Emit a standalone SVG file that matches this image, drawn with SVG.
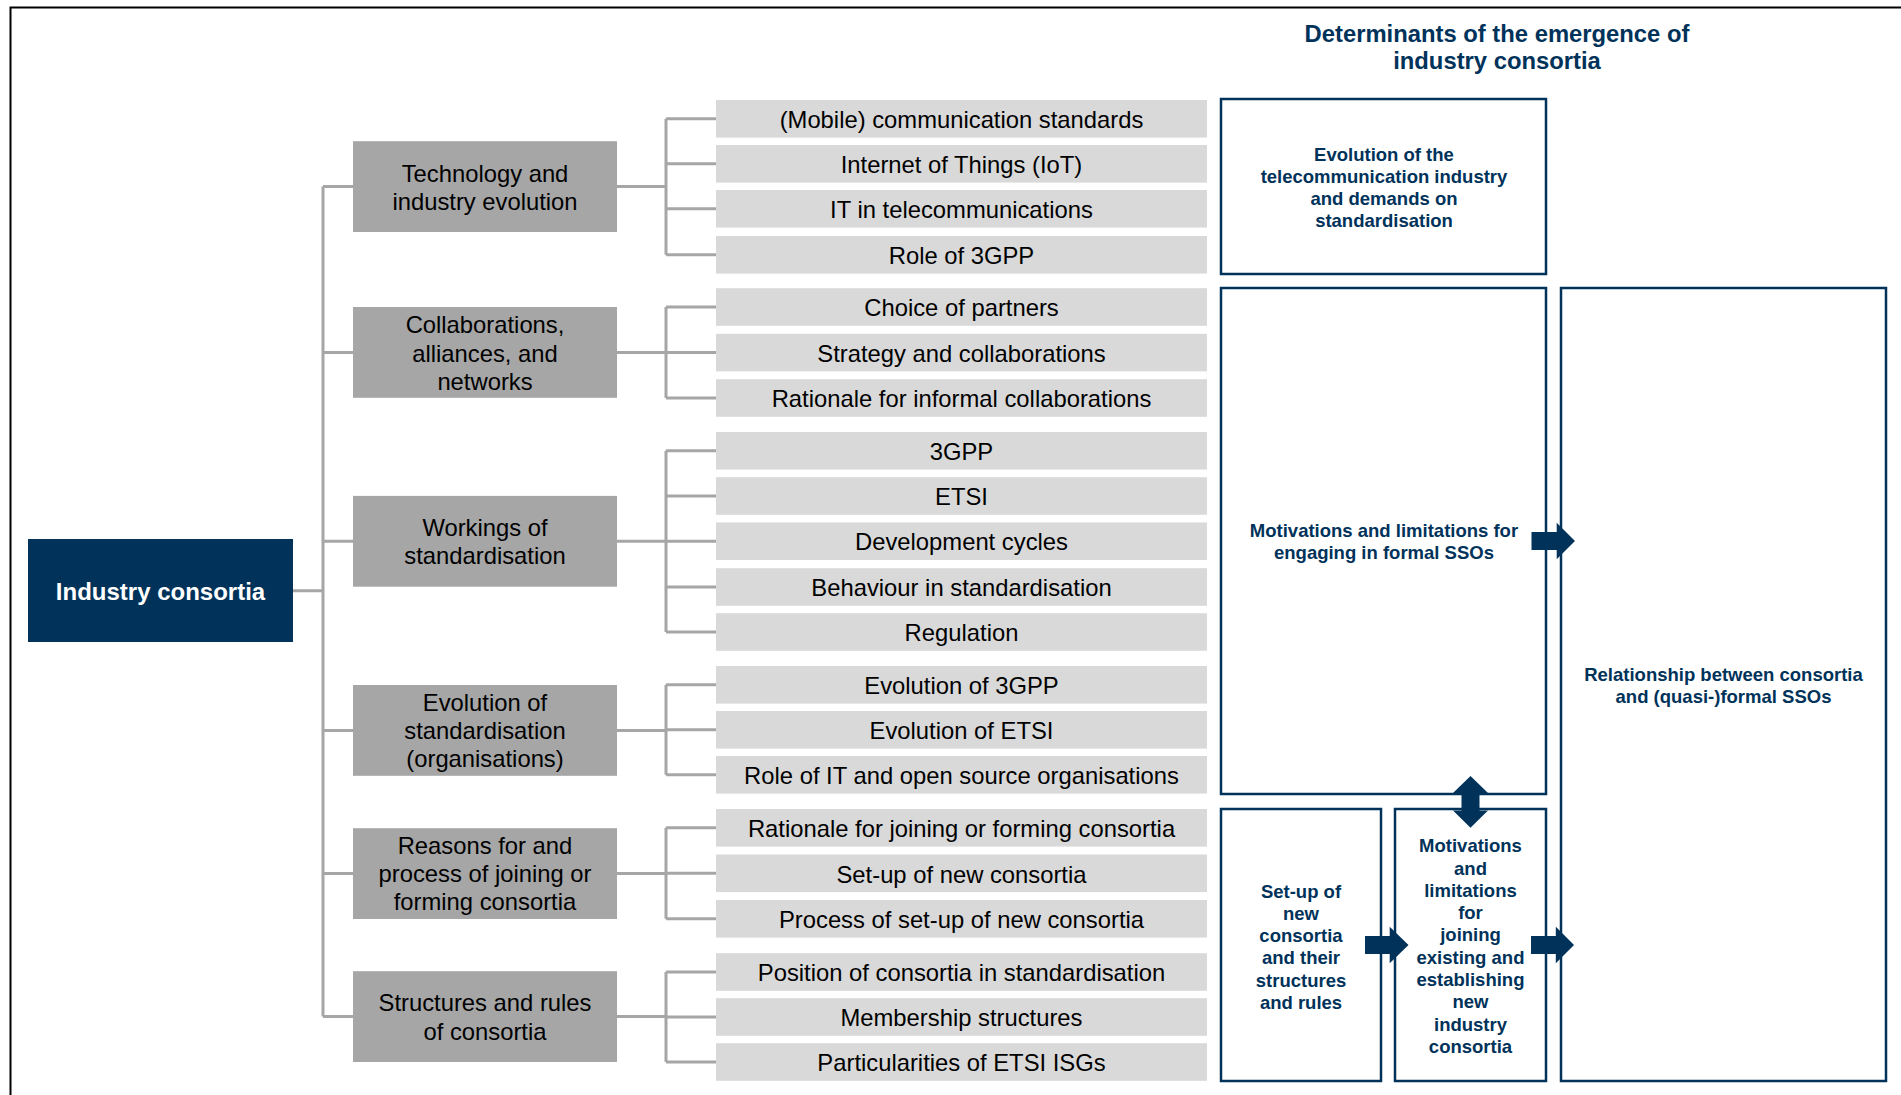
<svg xmlns="http://www.w3.org/2000/svg" width="1901" height="1095" viewBox="0 0 1901 1095">
  <style>
    .frame { fill: none; stroke: #000000; stroke-width: 2; }
    .wire { fill: none; stroke: #A6A6A6; stroke-width: 3; }
    .root { fill: #00325A; }
    .root-t { font-family: "Liberation Sans", Arial, sans-serif; font-size: 24px; font-weight: bold; fill: #FFFFFF; text-anchor: middle; }
    .cat { fill: #A6A6A6; }
    .item { fill: #D9D9D9; }
    .lbl { font-family: "Liberation Sans", Arial, sans-serif; font-size: 23.8px; fill: #000000; text-anchor: middle; }
    .det { fill: #FFFFFF; stroke: #00325A; stroke-width: 2.5; }
    .det-t { font-family: "Liberation Sans", Arial, sans-serif; font-size: 18.5px; font-weight: bold; fill: #00325A; text-anchor: middle; }
    .title { font-family: "Liberation Sans", Arial, sans-serif; font-size: 23.8px; font-weight: bold; fill: #00325A; text-anchor: middle; }
    .arrow { fill: #00325A; }
  </style>

  <!-- outer frame: left and top edges only -->
  <path class="frame" d="M10.5 1095 V7.5 H1901"/>

  <!-- tree connectors -->
  <g id="connectors">
    <!-- trunk -->
    <path class="wire" d="M293 590.7 H323 M323 186.6 V1016.6"/>
    <path class="wire" d="M323 186.6 H353 M323 352.4 H353 M323 541.3 H353 M323 730.4 H353 M323 873.4 H353 M323 1016.6 H353"/>
    <!-- group 1 -->
    <path class="wire" d="M617 186.6 H666 M666 118.8 V254.8 M666 118.8 H716 M666 163.8 H716 M666 208.8 H716 M666 254.8 H716"/>
    <!-- group 2 -->
    <path class="wire" d="M617 352.4 H666 M666 307 V398 M666 307 H716 M666 352.6 H716 M666 398 H716"/>
    <!-- group 3 -->
    <path class="wire" d="M617 541.3 H666 M666 450.8 V632 M666 450.8 H716 M666 496 H716 M666 541.2 H716 M666 587 H716 M666 632 H716"/>
    <!-- group 4 -->
    <path class="wire" d="M617 730.4 H666 M666 684.8 V774.8 M666 684.8 H716 M666 729.8 H716 M666 774.8 H716"/>
    <!-- group 5 -->
    <path class="wire" d="M617 873.4 H666 M666 827.8 V918.8 M666 827.8 H716 M666 873.3 H716 M666 918.8 H716"/>
    <!-- group 6 -->
    <path class="wire" d="M617 1016.6 H666 M666 972 V1062 M666 972 H716 M666 1017 H716 M666 1062 H716"/>
  </g>

  <!-- root -->
  <g id="industry-consortia">
    <rect class="root" x="28" y="539" width="265" height="103"/>
    <text class="root-t" x="160.5" y="599.5">Industry consortia</text>
  </g>

  <!-- categories -->
  <g id="cat-technology">
    <rect class="cat" x="353" y="141.2" width="264" height="90.8"/>
    <text class="lbl" x="485" y="181.6">Technology and</text>
    <text class="lbl" x="485" y="209.9">industry evolution</text>
  </g>
  <g id="cat-collaborations">
    <rect class="cat" x="353" y="307" width="264" height="90.8"/>
    <text class="lbl" x="485" y="333.3">Collaborations,</text>
    <text class="lbl" x="485" y="361.6">alliances, and</text>
    <text class="lbl" x="485" y="389.9">networks</text>
  </g>
  <g id="cat-workings">
    <rect class="cat" x="353" y="495.9" width="264" height="90.8"/>
    <text class="lbl" x="485" y="535.6">Workings of</text>
    <text class="lbl" x="485" y="563.9">standardisation</text>
  </g>
  <g id="cat-evolution">
    <rect class="cat" x="353" y="685" width="264" height="90.8"/>
    <text class="lbl" x="485" y="710.6">Evolution of</text>
    <text class="lbl" x="485" y="738.9">standardisation</text>
    <text class="lbl" x="485" y="767.2">(organisations)</text>
  </g>
  <g id="cat-reasons">
    <rect class="cat" x="353" y="828.2" width="264" height="90.8"/>
    <text class="lbl" x="485" y="853.6">Reasons for and</text>
    <text class="lbl" x="485" y="881.9">process of joining or</text>
    <text class="lbl" x="485" y="910.2">forming consortia</text>
  </g>
  <g id="cat-structures">
    <rect class="cat" x="353" y="971.2" width="264" height="90.8"/>
    <text class="lbl" x="485" y="1011.3">Structures and rules</text>
    <text class="lbl" x="485" y="1039.6">of consortia</text>
  </g>

  <!-- topic items -->
  <g id="items-technology">
    <rect class="item" x="716" y="100" width="491" height="37.6"/>
    <text class="lbl" x="961.5" y="128">(Mobile) communication standards</text>
    <rect class="item" x="716" y="145" width="491" height="37.6"/>
    <text class="lbl" x="961.5" y="173">Internet of Things (IoT)</text>
    <rect class="item" x="716" y="190" width="491" height="37.6"/>
    <text class="lbl" x="961.5" y="218">IT in telecommunications</text>
    <rect class="item" x="716" y="236" width="491" height="37.6"/>
    <text class="lbl" x="961.5" y="264">Role of 3GPP</text>
  </g>
  <g id="items-collaborations">
    <rect class="item" x="716" y="288.2" width="491" height="37.6"/>
    <text class="lbl" x="961.5" y="316.2">Choice of partners</text>
    <rect class="item" x="716" y="333.8" width="491" height="37.6"/>
    <text class="lbl" x="961.5" y="361.8">Strategy and collaborations</text>
    <rect class="item" x="716" y="379.2" width="491" height="37.6"/>
    <text class="lbl" x="961.5" y="407.2">Rationale for informal collaborations</text>
  </g>
  <g id="items-workings">
    <rect class="item" x="716" y="432" width="491" height="37.6"/>
    <text class="lbl" x="961.5" y="460">3GPP</text>
    <rect class="item" x="716" y="477.2" width="491" height="37.6"/>
    <text class="lbl" x="961.5" y="505.2">ETSI</text>
    <rect class="item" x="716" y="522.4" width="491" height="37.6"/>
    <text class="lbl" x="961.5" y="550.4">Development cycles</text>
    <rect class="item" x="716" y="568.2" width="491" height="37.6"/>
    <text class="lbl" x="961.5" y="596.2">Behaviour in standardisation</text>
    <rect class="item" x="716" y="613.2" width="491" height="37.6"/>
    <text class="lbl" x="961.5" y="641.2">Regulation</text>
  </g>
  <g id="items-evolution">
    <rect class="item" x="716" y="666" width="491" height="37.6"/>
    <text class="lbl" x="961.5" y="694">Evolution of 3GPP</text>
    <rect class="item" x="716" y="711" width="491" height="37.6"/>
    <text class="lbl" x="961.5" y="739">Evolution of ETSI</text>
    <rect class="item" x="716" y="756" width="491" height="37.6"/>
    <text class="lbl" x="961.5" y="784">Role of IT and open source organisations</text>
  </g>
  <g id="items-reasons">
    <rect class="item" x="716" y="809" width="491" height="37.6"/>
    <text class="lbl" x="961.5" y="837">Rationale for joining or forming consortia</text>
    <rect class="item" x="716" y="854.5" width="491" height="37.6"/>
    <text class="lbl" x="961.5" y="882.5">Set-up of new consortia</text>
    <rect class="item" x="716" y="900" width="491" height="37.6"/>
    <text class="lbl" x="961.5" y="928">Process of set-up of new consortia</text>
  </g>
  <g id="items-structures">
    <rect class="item" x="716" y="953.2" width="491" height="37.6"/>
    <text class="lbl" x="961.5" y="981.2">Position of consortia in standardisation</text>
    <rect class="item" x="716" y="998.2" width="491" height="37.6"/>
    <text class="lbl" x="961.5" y="1026.2">Membership structures</text>
    <rect class="item" x="716" y="1043.2" width="491" height="37.6"/>
    <text class="lbl" x="961.5" y="1071.2">Particularities of ETSI ISGs</text>
  </g>

  <!-- determinants panel -->
  <g id="determinants-title">
    <text class="title" x="1497" y="41.7">Determinants of the emergence of</text>
    <text class="title" x="1497" y="69.4">industry consortia</text>
  </g>
  <g id="det-evolution">
    <rect class="det" x="1221" y="99" width="325" height="175"/>
    <text class="det-t" x="1384" y="160.6">Evolution of the</text>
    <text class="det-t" x="1384" y="182.8">telecommunication industry</text>
    <text class="det-t" x="1384" y="205">and demands on</text>
    <text class="det-t" x="1384" y="227.3">standardisation</text>
  </g>
  <g id="det-formal">
    <rect class="det" x="1221" y="288" width="325" height="506"/>
    <text class="det-t" x="1384" y="536.7">Motivations and limitations for</text>
    <text class="det-t" x="1384" y="559">engaging in formal SSOs</text>
  </g>
  <g id="det-relationship">
    <rect class="det" x="1561" y="288" width="325" height="793"/>
    <text class="det-t" x="1723.5" y="680.8">Relationship between consortia</text>
    <text class="det-t" x="1723.5" y="703">and (quasi-)formal SSOs</text>
  </g>
  <g id="det-setup">
    <rect class="det" x="1221" y="809" width="160" height="272"/>
    <text class="det-t" x="1301" y="897.7">Set-up of</text>
    <text class="det-t" x="1301" y="919.9">new</text>
    <text class="det-t" x="1301" y="942.1">consortia</text>
    <text class="det-t" x="1301" y="964.3">and their</text>
    <text class="det-t" x="1301" y="986.5">structures</text>
    <text class="det-t" x="1301" y="1008.7">and rules</text>
  </g>
  <g id="det-joining">
    <rect class="det" x="1395" y="809" width="151" height="272"/>
    <text class="det-t" x="1470.5" y="852.3">Motivations</text>
    <text class="det-t" x="1470.5" y="874.6">and</text>
    <text class="det-t" x="1470.5" y="896.8">limitations</text>
    <text class="det-t" x="1470.5" y="919.1">for</text>
    <text class="det-t" x="1470.5" y="941.4">joining</text>
    <text class="det-t" x="1470.5" y="963.6">existing and</text>
    <text class="det-t" x="1470.5" y="985.9">establishing</text>
    <text class="det-t" x="1470.5" y="1008.2">new</text>
    <text class="det-t" x="1470.5" y="1030.5">industry</text>
    <text class="det-t" x="1470.5" y="1052.7">consortia</text>
  </g>

  <!-- block arrows between determinants -->
  <g id="arrows">
    <polygon class="arrow" points="1531.5,532 1556.7,532 1556.7,522.7 1575,541 1556.7,559.3 1556.7,550 1531.5,550"/>
    <polygon class="arrow" points="1365,936 1389.7,936 1389.7,926.7 1408.5,945 1389.7,963.3 1389.7,954 1365,954"/>
    <polygon class="arrow" points="1531,936 1555.8,936 1555.8,926.7 1574,945 1555.8,963.3 1555.8,954 1531,954"/>
    <polygon class="arrow" points="1470.5,776 1488,793 1479.5,793 1479.5,810.5 1488,810.5 1470.5,827.7 1453,810.5 1461.5,810.5 1461.5,793 1453,793"/>
  </g>
</svg>
